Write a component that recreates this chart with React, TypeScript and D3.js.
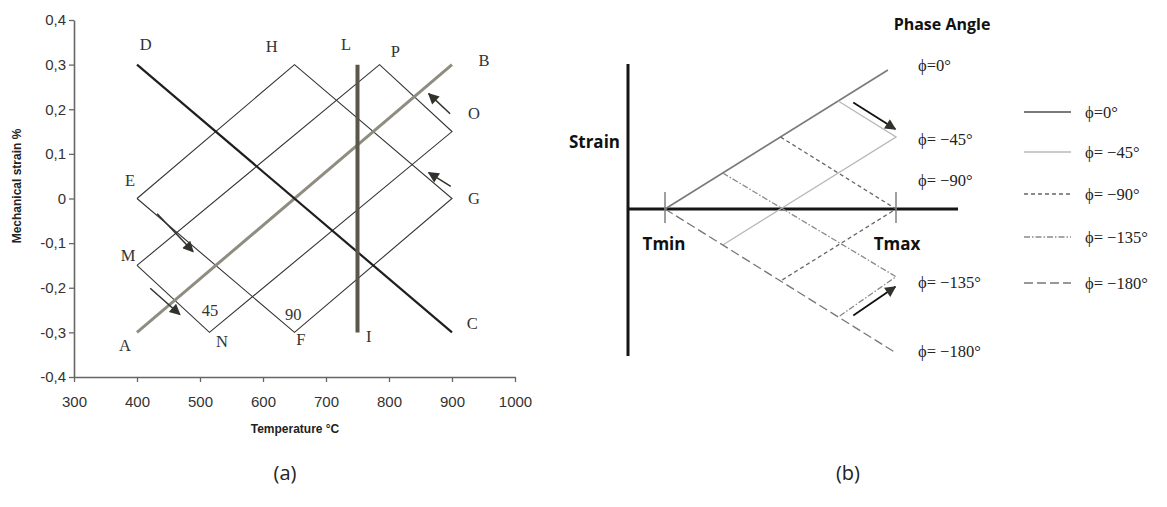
import * as d3 from "d3";
import React, { useEffect, useRef } from "react";

// ---- panel (a): strain-temperature paths ----
const yTicksA = [0.4, 0.3, 0.2, 0.1, 0, -0.1, -0.2, -0.3, -0.4];
const xTicksA = [300, 400, 500, 600, 700, 800, 900, 1000];

// [temperature, strain]
const lineDC = [[400, 0.3], [900, -0.3]];
const lineAB = [[400, -0.3], [900, 0.3]];
const lineLI = [[750, 0.3], [750, -0.3]];
const diamond90 = [[400, 0], [650, 0.3], [900, 0], [650, -0.3], [400, 0]];
const diamond45 = [[400, -0.15], [785, 0.3], [900, 0.15], [515, -0.3], [400, -0.15]];

const arrowsA = [
  [[432, -0.034], [489, -0.119]],
  [[421, -0.201], [468, -0.26]],
  [[897, 0.19], [863, 0.235]],
  [[898, 0.027], [863, 0.058]],
];

const labelsA: [string, number, number][] = [
  ["D", 414, 0.344],
  ["H", 614, 0.34],
  ["L", 732, 0.344],
  ["P", 810, 0.33],
  ["B", 951, 0.31],
  ["O", 935, 0.19],
  ["G", 935, 0.0],
  ["C", 932, -0.28],
  ["I", 768, -0.31],
  ["F", 660, -0.315],
  ["90", 648, -0.26],
  ["N", 535, -0.32],
  ["45", 516, -0.25],
  ["A", 381, -0.33],
  ["M", 386, -0.127],
  ["E", 389, 0.04],
];

// ---- panel (b): phase angle schematic, normalised T (0..1) and strain (-1..1) ----
const phaseNames = ["ϕ=0°", "ϕ= −45°", "ϕ= −90°", "ϕ= −135°", "ϕ= −180°"];
const phasePaths = [
  [[0, 0], [0.965, 0.965]],
  [[0.75, 0.75], [1, 0.5], [0.25, -0.25]],
  [[0.5, 0.5], [1, 0], [0.5, -0.5]],
  [[0.25, 0.25], [1, -0.47], [0.75, -0.75]],
  [[0, 0], [1, -1]],
];
const phaseLabelStrain = [1.0, 0.48, 0.2, -0.51, -0.99];
const phaseColors = ["#7a7a7a", "#b8b8b8", "#666", "#8a8a8a", "#777"];
const phaseDash = ["none", "none", "4,3", "6,2,1.5,2", "9,4"];
const phaseWidth = [1.6, 1.4, 1.3, 1.3, 1.3];
const arrowsB = [
  [[0.815, 0.74], [0.997, 0.555]],
  [[0.815, -0.74], [0.997, -0.54]],
];

const App = () => {
  const svgRef = useRef<SVGSVGElement>(null);

  useEffect(() => {
    const svg = d3.select(svgRef.current);
    svg.selectAll("*").remove();

    const defs = svg.append("defs");
    defs
      .append("marker")
      .attr("id", "head")
      .attr("viewBox", "0 0 10 10")
      .attr("refX", 9)
      .attr("refY", 5)
      .attr("markerUnits", "userSpaceOnUse")
      .attr("markerWidth", 14)
      .attr("markerHeight", 11)
      .attr("orient", "auto")
      .append("path")
      .attr("d", "M0,0 L10,5 L0,10 Z")
      .attr("fill", "#2f332c");

    // ===== panel (a) =====
    const x = d3.scaleLinear().domain([300, 1000]).range([74, 515]);
    const y = d3.scaleLinear().domain([-0.4, 0.4]).range([377, 20]);
    const fmt = (v: number) => (v === 0 ? "0" : d3.format(".1f")(v).replace(".", ",").replace("−", "-"));
    const arial = "Liberation Sans, Arial, sans-serif";

    const a = svg.append("g");

    const yAxis = a
      .append("g")
      .attr("transform", "translate(74,0)")
      .call(d3.axisLeft(y).tickValues(yTicksA).tickSize(5).tickSizeOuter(0).tickFormat((d) => fmt(+d)));
    const xAxis = a
      .append("g")
      .attr("transform", "translate(0,377)")
      .call(d3.axisBottom(x).tickValues(xTicksA).tickSize(5).tickSizeOuter(0).tickFormat((d) => String(d)));
    [yAxis, xAxis].forEach((ax) => {
      ax.select(".domain").attr("stroke", "#666").attr("stroke-width", 1.6);
      ax.selectAll(".tick line").attr("stroke", "#666").attr("stroke-width", 1.3);
      ax.selectAll(".tick text")
        .attr("fill", "#333")
        .style("font-family", arial)
        .style("font-size", "15px");
    });
    yAxis.selectAll(".tick text").attr("x", -8);
    xAxis.selectAll(".tick text").attr("y", 19);

    a.append("text")
      .attr("x", 295)
      .attr("y", 433)
      .attr("text-anchor", "middle")
      .style("font-family", arial)
      .style("font-weight", "bold")
      .style("font-size", "12px")
      .attr("fill", "#222")
      .text("Temperature °C");
    a.append("text")
      .attr("transform", "translate(21,186) rotate(-90)")
      .attr("text-anchor", "middle")
      .style("font-family", arial)
      .style("font-weight", "bold")
      .style("font-size", "12px")
      .attr("fill", "#222")
      .text("Mechanical strain %");

    const lineA = d3
      .line<number[]>()
      .x((d) => x(d[0]))
      .y((d) => y(d[1]));

    const pathsA: [number[][], string, number][] = [
      [diamond90, "#333", 1.1],
      [diamond45, "#333", 1.1],
      [lineAB, "#8f8c80", 3],
      [lineDC, "#1e1e1e", 2.2],
      [lineLI, "#5a5649", 4],
    ];
    pathsA.forEach(([pts, color, w]) => {
      a.append("path")
        .attr("d", lineA(pts))
        .attr("fill", "none")
        .attr("stroke", color)
        .attr("stroke-width", w);
    });

    arrowsA.forEach((ar) => {
      a.append("line")
        .attr("x1", x(ar[0][0]))
        .attr("y1", y(ar[0][1]))
        .attr("x2", x(ar[1][0]))
        .attr("y2", y(ar[1][1]))
        .attr("stroke", "#2f332c")
        .attr("stroke-width", 1.5)
        .attr("marker-end", "url(#head)");
    });

    a.selectAll("text.pt")
      .data(labelsA)
      .enter()
      .append("text")
      .attr("class", "pt")
      .attr("x", (d) => x(d[1]))
      .attr("y", (d) => y(d[2]))
      .attr("text-anchor", "middle")
      .attr("dominant-baseline", "central")
      .style("font-family", "Liberation Serif, Times New Roman, serif")
      .style("font-size", "16.5px")
      .attr("fill", "#333")
      .text((d) => d[0]);

    // ===== panel (b) =====
    const t = d3.scaleLinear().domain([0, 1]).range([665, 896]);
    const s = d3.scaleLinear().domain([-1, 1]).range([353, 65]);
    const b = svg.append("g");
    const sans = "Open Sans, Noto Sans, sans-serif";
    const serif = "Liberation Serif, Times New Roman, serif";

    // axes
    b.append("line").attr("x1", 628).attr("x2", 628).attr("y1", 64).attr("y2", 356)
      .attr("stroke", "#151515").attr("stroke-width", 3);
    b.append("line").attr("x1", 628).attr("x2", 958).attr("y1", s(0)).attr("y2", s(0))
      .attr("stroke", "#151515").attr("stroke-width", 3);
    [0, 1].forEach((v) => {
      b.append("line").attr("x1", t(v)).attr("x2", t(v)).attr("y1", s(0) - 17).attr("y2", s(0) + 14)
        .attr("stroke", "#888").attr("stroke-width", 1.6);
    });

    const lineB = d3
      .line<number[]>()
      .x((d) => t(d[0]))
      .y((d) => s(d[1]));
    phasePaths.forEach((pts, i) => {
      b.append("path")
        .attr("d", lineB(pts))
        .attr("fill", "none")
        .attr("stroke", phaseColors[i])
        .attr("stroke-width", phaseWidth[i])
        .attr("stroke-dasharray", phaseDash[i]);
    });

    arrowsB.forEach((ar) => {
      b.append("line")
        .attr("x1", t(ar[0][0]))
        .attr("y1", s(ar[0][1]))
        .attr("x2", t(ar[1][0]))
        .attr("y2", s(ar[1][1]))
        .attr("stroke", "#111")
        .attr("stroke-width", 1.8)
        .attr("marker-end", "url(#head)");
    });

    b.selectAll("text.ph")
      .data(phaseNames)
      .enter()
      .append("text")
      .attr("class", "ph")
      .attr("x", 918)
      .attr("y", (d, i) => s(phaseLabelStrain[i]))
      .attr("dominant-baseline", "central")
      .style("font-family", serif)
      .style("font-size", "16.5px")
      .attr("fill", "#222")
      .text((d) => d);

    const bold = (txt: string, px: number, py: number, anchor: string, size: number) =>
      b.append("text")
        .attr("x", px)
        .attr("y", py)
        .attr("text-anchor", anchor)
        .attr("dominant-baseline", "central")
        .style("font-family", sans)
        .style("font-weight", "bold")
        .style("font-size", `${size}px`)
        .attr("fill", "#111")
        .text(txt);
    bold("Phase Angle", 942, 24, "middle", 16);
    bold("Strain", 620, 141, "end", 17);
    bold("Tmin", t(0) - 1, 243, "middle", 17);
    bold("Tmax", t(1) + 1, 243, "middle", 17);

    // legend
    const legendY = [112, 152, 194, 237, 283];
    const legend = b.selectAll("g.lg").data(phaseNames).enter().append("g").attr("class", "lg")
      .attr("transform", (d, i) => `translate(1024,${legendY[i]})`);
    legend.append("line")
      .attr("x1", 0).attr("x2", 47)
      .attr("stroke", (d, i) => phaseColors[i])
      .attr("stroke-width", (d, i) => phaseWidth[i] + 0.3)
      .attr("stroke-dasharray", (d, i) => phaseDash[i]);
    legend.append("text")
      .attr("x", 61)
      .attr("dominant-baseline", "central")
      .style("font-family", serif)
      .style("font-size", "16.5px")
      .attr("fill", "#222")
      .text((d) => d);

    // panel captions
    [["(a)", 285], ["(b)", 848]].forEach(([c, cx]) => {
      svg.append("text")
        .attr("x", cx as number)
        .attr("y", 472)
        .attr("text-anchor", "middle")
        .attr("dominant-baseline", "central")
        .style("font-family", sans)
        .style("font-size", "20px")
        .attr("fill", "#222")
        .text(c as string);
    });
  }, []);

  return (
    <svg
      ref={svgRef}
      width={1167}
      height={507}
      style={{ position: "absolute", left: 0, top: 0, background: "#fff" }}
    ></svg>
  );
};

export default App;
